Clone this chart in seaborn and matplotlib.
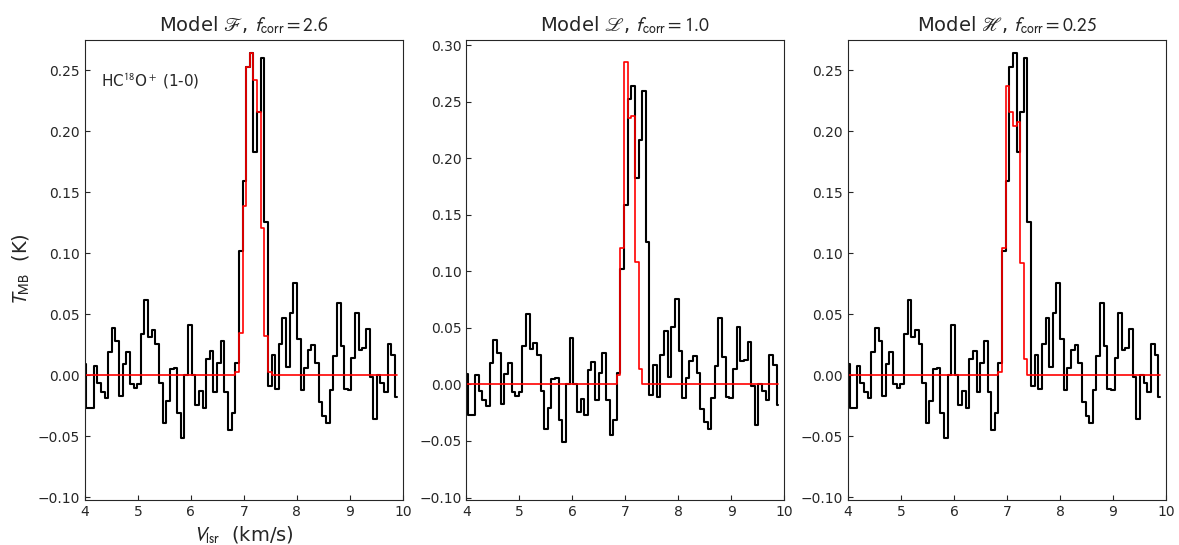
import numpy as np
import matplotlib
matplotlib.use("Agg")
import matplotlib.pyplot as plt
import seaborn as sns

# observed HC18O+ (1-0) spectrum, channel values (K)
t_obs = [0.009, -0.027, -0.027, 0.008, -0.006, -0.014, -0.019, 0.019, 0.039, 0.028,
         -0.017, 0.009, 0.019, -0.007, -0.010, -0.007, 0.034, 0.062, 0.031, 0.037,
         0.026, -0.006, -0.039, -0.021, 0.005, 0.006, -0.031, -0.051, 0.000, 0.041,
         0.000, -0.024, -0.013, -0.027, 0.013, 0.020, -0.014, 0.010, 0.028, -0.014,
         -0.045, -0.031, 0.010, 0.102, 0.159, 0.253, 0.264, 0.183, 0.216, 0.260,
         0.126, -0.009, 0.017, -0.011, 0.026, 0.047, 0.007, 0.051, 0.076, 0.030,
         -0.012, 0.006, 0.021, 0.025, 0.010, -0.022, -0.033, -0.039, -0.012, 0.016,
         0.059, 0.024, -0.011, -0.012, 0.014, 0.051, 0.021, 0.022, 0.038, -0.001,
         -0.036, 0.000, -0.006, -0.014, 0.026, 0.017, -0.018]
v_start = 3.96
dv = 0.0685

# model line cores, starting at channel 42
core_start = 42
model_F = [0.003, 0.035, 0.139, 0.253, 0.264, 0.242, 0.216, 0.121, 0.032, 0.003]
model_L = [0.008, 0.121, 0.285, 0.236, 0.238, 0.108, 0.014]
model_H = [0.003, 0.104, 0.237, 0.216, 0.204, 0.208, 0.092, 0.013]

titles = [r"Model $\mathscr{F}$, $f_{\rm corr} = 2.6$",
          r"Model $\mathscr{L}$, $f_{\rm corr} = 1.0$",
          r"Model $\mathscr{H}$, $f_{\rm corr} = 0.25$"]
ytops = [0.275, 0.305, 0.275]

sns.set_style("ticks")
plt.rcParams['mathtext.fontset'] = 'stixsans'
plt.rcParams['font.family'] = ['DejaVu Sans']

n = len(t_obs)
v = v_start + dv * (np.arange(n) + 0.5)

fig, axes = plt.subplots(1, 3, figsize=(11.79, 5.45), dpi=100)
fig.subplots_adjust(left=0.072, right=0.989, bottom=0.083, top=0.927, wspace=0.2)

for ax, model, title, ytop in zip(axes, [model_F, model_L, model_H], titles, ytops):
    mod = np.zeros(n)
    mod[core_start:core_start + len(model)] = model
    sns.lineplot(x=v, y=np.array(t_obs), ax=ax, color='black', lw=1.5,
                 drawstyle='steps-mid', estimator=None)
    sns.lineplot(x=v, y=mod, ax=ax, color='red', lw=1.2,
                 drawstyle='steps-mid', estimator=None)
    ax.set_xlim(4, 10)
    ax.set_ylim(-0.102, ytop)
    ax.set_xticks(range(4, 11))
    ax.set_title(title, fontsize=14)
    ax.tick_params(direction='in', labelsize=10)
    for s in ax.spines.values():
        s.set_linewidth(0.8)

axes[0].text(0.05, 0.93, r"HC$^{18}$O$^+$ (1-0)", transform=axes[0].transAxes,
             fontsize=11, va='top')
axes[0].set_xlabel(r"$V_{\rm lsr}$  (km/s)", fontsize=14)
axes[0].set_ylabel(r"$T_{\rm MB}$  (K)", fontsize=14)

fig.savefig("out.png", dpi=100)
